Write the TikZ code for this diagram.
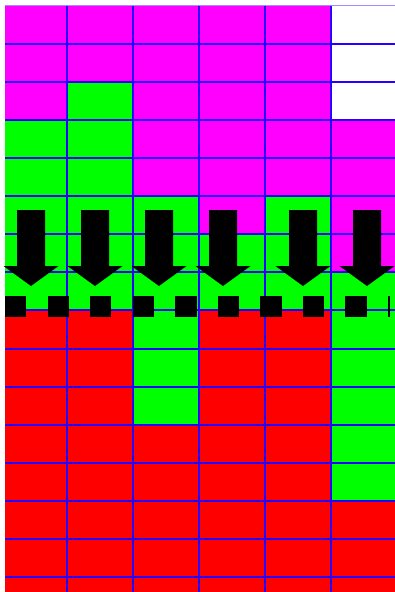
\documentclass[tikz,border=0pt]{standalone}
\definecolor{cM}{RGB}{255,0,255}
\definecolor{cG}{RGB}{0,255,0}
\definecolor{cR}{RGB}{255,0,0}
\definecolor{cW}{RGB}{255,255,255}
\definecolor{gridblue}{RGB}{40,0,255}
\begin{document}
\begin{tikzpicture}[x=1pt,y=-1pt,
  gridline/.style={draw=gridblue,line width=2pt},
  dashbar/.style={draw=black,line width=21pt,dash pattern=on 21.3pt off 21.26pt},
  blockarrow/.pic={\fill[black] (-14,0) -- (14,0) -- (14,56) -- (27.5,56) -- (0,76) -- (-27.5,56) -- (-14,56) -- cycle;}]
\useasboundingbox (0,0) rectangle (395,592);
\fill[white] (0,0) rectangle (395,592);
\begin{scope}
\clip (5,5) rectangle (395,592);
\foreach \r/\cols in {
  0/{cM,cM,cM,cM,cM,cW},
  1/{cM,cM,cM,cM,cM,cW},
  2/{cM,cG,cM,cM,cM,cW},
  3/{cG,cG,cM,cM,cM,cM},
  4/{cG,cG,cM,cM,cM,cM},
  5/{cG,cG,cG,cM,cG,cM},
  6/{cG,cG,cG,cG,cG,cM},
  7/{cG,cG,cG,cG,cG,cG},
  8/{cR,cR,cG,cR,cR,cG},
  9/{cR,cR,cG,cR,cR,cG},
  10/{cR,cR,cG,cR,cR,cG},
  11/{cR,cR,cR,cR,cR,cG},
  12/{cR,cR,cR,cR,cR,cG},
  13/{cR,cR,cR,cR,cR,cR},
  14/{cR,cR,cR,cR,cR,cR},
  15/{cR,cR,cR,cR,cR,cR}}{
  \foreach \c [count=\i from 0] in \cols {
    \fill[\c] ({0.7+66*\i},{5.7+38.09*\r}) rectangle ({0.7+66*(\i+1)},{5.7+38.09*(\r+1)});
  }
}
\foreach \k in {1,...,15}{
  \draw[gridline] (0,{5.7+38.09*\k}) -- (400,{5.7+38.09*\k});
}
\foreach \k in {1,...,5}{
  \draw[gridline] ({0.7+66*\k},0) -- ({0.7+66*\k},600);
}
\draw[draw=gridblue!45,line width=1.2pt] (5,5.6) -- (400,5.6);
\end{scope}
\foreach \ax in {31,95,159,223,303,367}{
  \pic at (\ax,210) {blockarrow};
}
\coordinate (barL) at (5,306.5);
\coordinate (barR) at (390,306.5);
\draw[dashbar] (barL) -- (barR);
\end{tikzpicture}
\end{document}
